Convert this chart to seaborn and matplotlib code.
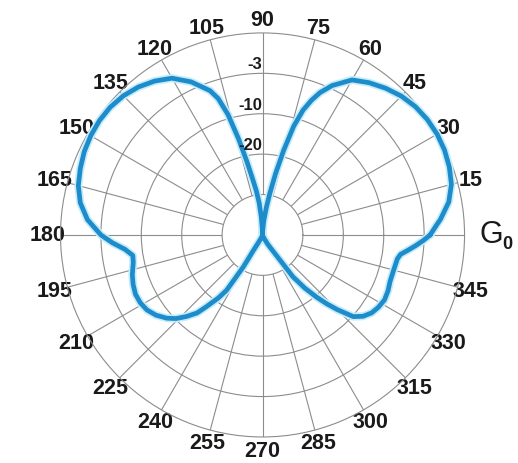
import numpy as np
import pandas as pd
import matplotlib
matplotlib.use("Agg")
import matplotlib.pyplot as plt
import seaborn as sns

# Radiation pattern: direction (degrees) and level in ring units
# (0 = null at the centre, 5 = outer ring = G0)
angle_deg = [0, 3, 5, 10, 15, 20, 25, 30, 35, 40, 45, 50, 55, 60, 65, 68, 70,
             72, 74, 76, 78, 80, 82, 85, 88, 90, 92, 94, 96, 98, 100, 102, 104,
             106, 108, 110, 115, 120, 125, 130, 135, 140, 145, 150, 155, 160,
             165, 170, 175, 180, 183, 186, 189, 192, 197, 201, 205, 209, 213,
             217, 221, 224, 227, 230, 232, 235, 237, 239, 239.5, 241, 244, 250,
             270, 290, 296, 299, 302, 304, 306, 308.5, 311, 313, 315, 318, 321,
             324.5, 328, 332, 336, 340, 345, 350, 352, 354, 356, 358, 360]
level = [4.15, 4.30, 4.42, 4.68, 4.84, 4.92, 4.97, 4.99, 4.98, 4.94, 4.86,
         4.74, 4.60, 4.43, 4.08, 3.80, 3.55, 3.25, 2.80, 2.15, 1.55, 1.05,
         0.70, 0.35, 0.10, 0.0, 0.15, 0.45, 0.80, 1.10, 1.40, 1.85, 2.45,
         3.10, 3.55, 3.80, 4.18, 4.48, 4.65, 4.78, 4.87, 4.92, 4.93, 4.91,
         4.87, 4.80, 4.72, 4.58, 4.35, 4.00, 3.72, 3.42, 3.25, 3.27, 3.37,
         3.43, 3.47, 3.46, 3.41, 3.30, 3.14, 2.98, 2.76, 2.52, 2.25, 1.90,
         1.63, 0.92, 0.44, 0.25, 0.12, 0.04, 0.0, 0.04, 0.12, 0.25, 0.40,
         0.60, 1.28, 1.68, 2.04, 2.33, 2.61, 3.02, 3.20, 3.32, 3.38, 3.42,
         3.40, 3.36, 3.36, 3.39, 3.45, 3.62, 3.80, 3.98, 4.15]

# Rings and their dB labels
ring_levels = [2, 3, 4]
ring_labels = ["-20", "-10", "-3"]

# Direction ticks every 15 degrees; 0 is marked G0 instead
theta_ticks = list(range(0, 360, 15))
theta_labels = ["" if a == 0 else str(a) for a in theta_ticks]

sns.set_theme(style="white")
plt.rcParams["font.family"] = ["Liberation Sans", "DejaVu Sans"]

grid_color = "#8c8c8c"
line_color = "#1e8ccb"
text_color = "#1a1a1a"

fig = plt.figure(figsize=(5.18, 4.64), dpi=100)
ax = fig.add_axes([0.1168, 0.0560, 0.780, 0.871], projection="polar")

df = pd.DataFrame({"theta": np.deg2rad(angle_deg), "level": level})

# soft light halo under the main trace
sns.lineplot(data=df, x="theta", y="level", sort=False, estimator=None,
             ax=ax, color="#c4ecfb", linewidth=5.8, clip_on=False, zorder=3)
sns.lineplot(data=df, x="theta", y="level", sort=False, estimator=None,
             ax=ax, color=line_color, linewidth=3.4, clip_on=False, zorder=4,
             solid_joinstyle="round")

ax.set_rorigin(0)
ax.set_ylim(1, 5)
ax.set_rgrids(ring_levels, labels=["", "", ""])
ax.set_thetagrids(theta_ticks, labels=theta_labels)
ax.grid(True, color=grid_color, linewidth=0.8)
ax.tick_params(axis="x", pad=2.5, size=0, labelsize=15.5)
ax.tick_params(axis="y", size=0)
for lab in ax.get_xticklabels():
    lab.set_fontweight("bold")
    lab.set_color(text_color)
for sp in ax.spines.values():
    sp.set_color(grid_color)
    sp.set_linewidth(0.8)
ax.set_xlabel("")
ax.set_ylabel("")

# dB labels sitting just above each ring, left of the 90 degree spoke
for r, txt in zip(ring_levels, ring_labels):
    ax.text(np.pi / 2, r + 0.24, txt, ha="right", va="center", fontsize=12,
            fontweight="bold", color=text_color, zorder=5)

# G0 marker at the 0 degree direction
ax.text(1.036, 0.502, "G", transform=ax.transAxes, ha="left", va="center",
        fontsize=22, color=text_color)
ax.text(1.094, 0.478, "0", transform=ax.transAxes, ha="left", va="center",
        fontsize=13, fontweight="bold", color=text_color)

fig.savefig("out.png", dpi=100, facecolor="white")
